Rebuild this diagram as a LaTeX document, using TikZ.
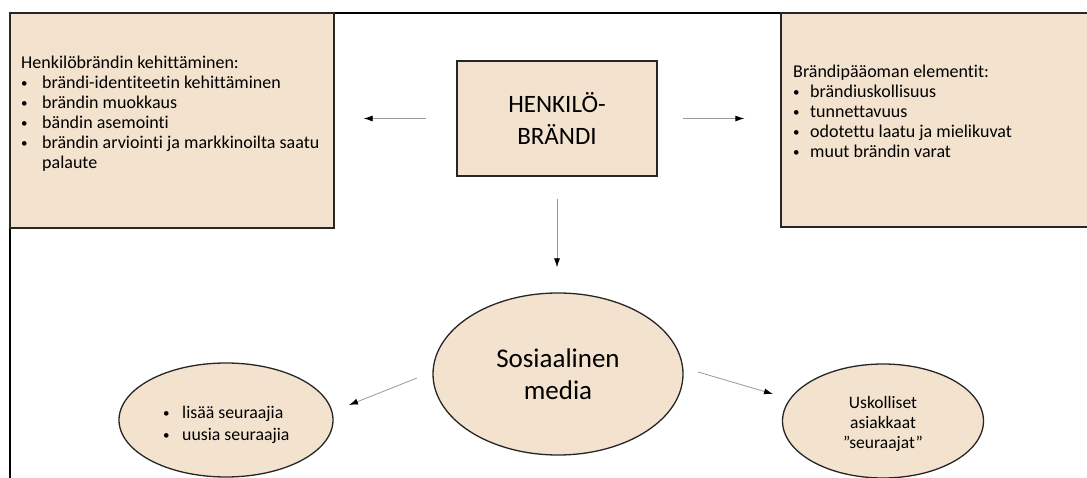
\documentclass[tikz,border=0pt]{standalone}
\usepackage{fontspec}
\setmainfont{Carlito}[Ligatures=NoCommon]
\usetikzlibrary{shapes.geometric,arrows.meta}
\definecolor{beige}{HTML}{F3E2CE}
\definecolor{edgec}{HTML}{262626}
\newcommand\smbul{\raisebox{1pt}{\fontsize{13}{13}\selectfont\textbullet}}
\newcommand\bitem[2][21pt]{\makebox[#1][l]{\smbul}#2}
\begin{document}
\begin{tikzpicture}[x=1pt,y=-1pt,
  box/.style={draw=edgec, line width=1.3pt, fill=beige, rectangle, inner sep=0},
  oval/.style={draw=edgec, line width=1.3pt, fill=beige, ellipse, inner sep=0},
  txt/.style={inner sep=0, align=left, font=\fontsize{18}{20}\selectfont},
  arr/.style={draw=gray!80, line width=0.8pt, -{Latex[black,length=9pt,width=6pt]}}]
\useasboundingbox (0,0) rectangle (1087,478);
\clip (0,0) rectangle (1087,478);
\draw[line width=2pt] (1095,13) -- (10,13) -- (10,485);
% boxes
\node[box, minimum width=324, minimum height=215] (lb) at (172,120.5) {};
\node[box, minimum width=319, minimum height=214] (rb) at (940.5,120) {};
\node[box, minimum width=200, minimum height=115, align=center,
      font=\fontsize{25}{32}\selectfont] (cb) at (557,118.5) {HENKILÖ-\\BRÄNDI};
\node[txt, anchor=north west] (lt) at (21,55.5) {Henkilöbrändin kehittäminen:\\
  \bitem{brändi-identiteetin kehittäminen}\\
  \bitem{brändin muokkaus}\\
  \bitem{bändin asemointi}\\
  \bitem{brändin arviointi ja markkinoilta saatu}\\
  \hspace*{21pt}palaute};
\node[txt, anchor=north west] (rt) at (793,64.5) {Brändipääoman elementit:\\
  \bitem[17pt]{brändiuskollisuus}\\
  \bitem[17pt]{tunnettavuus}\\
  \bitem[17pt]{odotettu laatu ja mielikuvat}\\
  \bitem[17pt]{muut brändin varat}};
% ellipses
\node[oval, minimum width=250, minimum height=162, align=center,
      font=\fontsize{27}{32}\selectfont] (sm) at (558,374) {Sosiaalinen\\media};
\node[oval, minimum width=214, minimum height=114] (le) at (226,420) {};
\node[oval, minimum width=201, minimum height=114] (re) at (883,421) {};
\node[inner sep=0, align=left, anchor=north west, font=\fontsize{17.8}{22}\selectfont]
  (let) at (163,406) {\bitem[19pt]{lisää seuraajia}\\
  \bitem[19pt]{uusia seuraajia}};
\node[inner sep=0, align=center, anchor=north, font=\fontsize{17.5}{20}\selectfont]
  (ret) at (883,396) {Uskolliset\\asiakkaat\\”seuraajat”};
% connectors
\draw[arr, shorten <=30pt, shorten >=29pt] (cb.west) -- (cb.west -| lb.east);
\draw[arr, shorten <=25pt, shorten >=36pt] (cb.east) -- (cb.east -| rb.west);
\draw[arr, shorten <=22pt, shorten >=25pt] (cb.south) -- (cb.south |- sm.north);
\coordinate (d1s) at (417,378);
\coordinate (d1e) at (349,405);
\coordinate (d2s) at (698,372);
\coordinate (d2e) at (773,394);
\draw[arr] (d1s) -- (d1e);
\draw[arr] (d2s) -- (d2e);
\end{tikzpicture}
\end{document}
